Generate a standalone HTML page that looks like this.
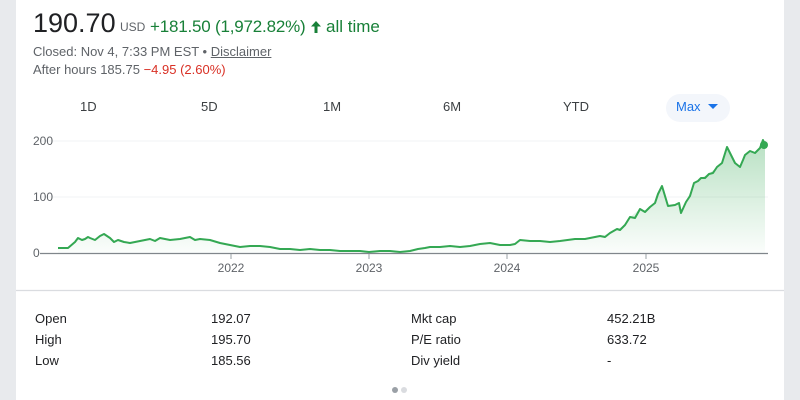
<!DOCTYPE html>
<html><head><meta charset="utf-8"><style>
body{margin:0;width:800px;height:400px;background:#e8eaed;font-family:"Liberation Sans",sans-serif;overflow:hidden;position:relative}
.card{position:absolute;left:16px;top:0;width:768px;height:400px;background:#fff}
.a{position:absolute;white-space:nowrap}
.t{font-size:13px;color:#3c4043;top:99px}
.s{font-size:13px;color:#202124}
</style></head><body>
<div class="card"></div>
<div class="a" style="left:33px;top:8px;font-size:27px;color:#202124">190.70</div>
<div class="a" style="left:120px;top:20px;font-size:12px;color:#5f6368">USD</div>
<div class="a" style="left:150px;top:17px;font-size:17px;color:#188038;letter-spacing:-0.2px">+181.50 (1,972.82%)</div>
<svg class="a" style="left:310px;top:20px" width="12" height="14"><path d="M6,1 L11,6.5 L7.5,6.5 L7.5,13 L4.5,13 L4.5,6.5 L1,6.5 Z" fill="#188038"/></svg>
<div class="a" style="left:326px;top:17px;font-size:17px;color:#188038">all time</div>
<div class="a" style="left:33px;top:44px;font-size:13px;color:#5f6368">Closed: Nov 4, 7:33 PM EST • <span style="text-decoration:underline">Disclaimer</span></div>
<div class="a" style="left:33px;top:62px;font-size:13px;color:#5f6368">After hours 185.75 <span style="color:#d93025">−4.95 (2.60%)</span></div>
<div class="a t" style="left:80px">1D</div>
<div class="a t" style="left:201px">5D</div>
<div class="a t" style="left:323px">1M</div>
<div class="a t" style="left:443px">6M</div>
<div class="a t" style="left:563px">YTD</div>
<div class="a" style="left:666px;top:94px;width:64px;height:28px;border-radius:14px;background:#f3f6fb"></div>
<div class="a" style="left:676px;top:99px;font-size:13px;color:#1a73e8">Max</div>
<div class="a" style="left:708px;top:104px;width:0;height:0;border-left:5px solid transparent;border-right:5px solid transparent;border-top:5px solid #1a73e8"></div>
<svg class="a" style="left:0;top:0" width="800" height="300">
<defs><linearGradient id="g" x1="0" y1="0" x2="0" y2="1"><stop offset="0" stop-color="#34a853" stop-opacity="0.35"/><stop offset="1" stop-color="#34a853" stop-opacity="0.02"/></linearGradient></defs>
<line x1="40" y1="141" x2="768" y2="141" stroke="#f1f3f4"/>
<line x1="40" y1="197" x2="768" y2="197" stroke="#f1f3f4"/>
<g font-size="12" fill="#5f6368" font-family="Liberation Sans, sans-serif">
<text x="33" y="145">200</text><text x="33" y="201">100</text><text x="33" y="257">0</text>
<text x="231" y="272" text-anchor="middle">2022</text><text x="369" y="272" text-anchor="middle">2023</text><text x="507" y="272" text-anchor="middle">2024</text><text x="646" y="272" text-anchor="middle">2025</text>
</g>
<path d="M58,248 L68,248 L75,242 L78,238 L82,240 L85,239 L88,237 L90,238 L95,240 L100,236 L104,234 L110,238 L114,242 L118,240 L124,242 L130,243 L135,242 L140,241 L145,240 L150,239 L155,241 L160,238 L165,239 L170,240 L180,239 L190,237 L195,240 L200,239 L210,240 L220,243 L230,245 L240,247 L250,246 L260,246 L270,247 L280,249 L290,249 L300,250 L310,249 L320,250 L330,250 L340,251 L350,251 L360,251 L369,252 L380,251 L390,251 L400,252 L410,251 L418,249 L425,248 L430,247 L440,247 L450,246 L460,247 L470,246 L480,244 L490,243 L500,245 L510,245 L515,244 L520,240 L530,241 L540,241 L550,242 L560,241 L575,239 L585,239 L590,238 L600,236 L605,237 L610,233 L617,229 L620,230 L625,225 L630,217 L635,218 L640,209 L645,212 L650,207 L655,203 L658,194 L662,186 L668,206 L675,205 L679,203 L681,213 L686,202 L690,196 L694,183 L698,181 L701,178 L705,178 L709,174 L713,173 L717,167 L722,163 L727,147 L731,155 L735,163 L740,167 L743,160 L745,155 L750,151 L755,153 L760,148 L763,140 L765,145" fill="none" stroke="#34a853" stroke-width="2" stroke-linejoin="round"/>
<path d="M58,248 L68,248 L75,242 L78,238 L85,239 L90,238 L95,240 L100,236 L104,234 L110,238 L114,242 L118,240 L124,242 L130,243 L140,241 L150,239 L160,238 L170,240 L190,237 L195,240 L210,240 L220,243 L230,245 L240,247 L260,246 L280,249 L300,250 L310,249 L330,250 L350,251 L369,252 L390,251 L410,251 L418,249 L430,247 L440,247 L450,246 L470,246 L480,244 L490,243 L500,245 L510,245 L520,240 L540,241 L560,241 L575,239 L590,238 L600,236 L610,233 L617,229 L625,225 L630,217 L640,209 L645,212 L650,207 L655,203 L658,194 L662,186 L668,206 L679,203 L681,213 L686,202 L694,183 L701,178 L709,174 L717,167 L722,163 L727,147 L735,163 L740,167 L745,155 L750,151 L755,153 L760,148 L763,140 L765,145 L765,253 L58,253 Z" fill="url(#g)"/>
<circle cx="764" cy="145" r="4" fill="#34a853"/>
<line x1="40" y1="253.5" x2="768" y2="253.5" stroke="#80868b" stroke-width="1.2"/>
<line x1="231" y1="254" x2="231" y2="259" stroke="#9aa0a6"/><line x1="369" y1="254" x2="369" y2="259" stroke="#9aa0a6"/><line x1="507" y1="254" x2="507" y2="259" stroke="#9aa0a6"/><line x1="646" y1="254" x2="646" y2="259" stroke="#9aa0a6"/>
<line x1="16" y1="290.5" x2="784" y2="290.5" stroke="#dadce0" stroke-width="1.2"/>
</svg>
<div class="a s" style="left:35px;top:311px">Open</div><div class="a s" style="left:211px;top:311px">192.07</div>
<div class="a s" style="left:35px;top:332px">High</div><div class="a s" style="left:211px;top:332px">195.70</div>
<div class="a s" style="left:35px;top:353px">Low</div><div class="a s" style="left:211px;top:353px">185.56</div>
<div class="a s" style="left:411px;top:311px">Mkt cap</div><div class="a s" style="left:607px;top:311px">452.21B</div>
<div class="a s" style="left:411px;top:332px">P/E ratio</div><div class="a s" style="left:607px;top:332px">633.72</div>
<div class="a s" style="left:411px;top:353px">Div yield</div><div class="a s" style="left:607px;top:353px">-</div>
<div class="a" style="left:392px;top:387px;width:6px;height:6px;border-radius:3px;background:#9aa0a6"></div>
<div class="a" style="left:401px;top:387px;width:6px;height:6px;border-radius:3px;background:#dadce0"></div>
</body></html>
